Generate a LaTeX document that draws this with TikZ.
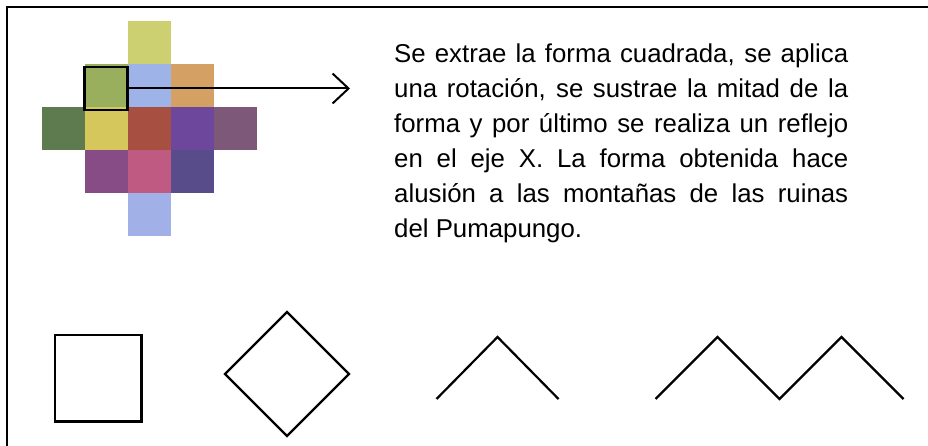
\documentclass[tikz,border=0pt]{standalone}
\usepackage{fontspec}
\setmainfont{Liberation Sans}
\usetikzlibrary{arrows.meta}
\hyphenpenalty=10000

\definecolor{cA}{RGB}{205,208,112}
\definecolor{cB}{RGB}{154,175,94}
\definecolor{cC}{RGB}{158,179,232}
\definecolor{cD}{RGB}{212,160,100}
\definecolor{cE}{RGB}{94,123,79}
\definecolor{cF}{RGB}{213,199,91}
\definecolor{cG}{RGB}{167,79,64}
\definecolor{cH}{RGB}{109,71,155}
\definecolor{cI}{RGB}{126,88,120}
\definecolor{cJ}{RGB}{135,76,133}
\definecolor{cK}{RGB}{191,90,130}
\definecolor{cL}{RGB}{88,76,138}
\definecolor{cM}{RGB}{161,176,230}

\tikzset{tile/.style={minimum size=43pt, inner sep=0pt, outer sep=0pt, draw=none}}
\tikzset{shape line/.style={line width=2.2pt}}

\begin{document}
\begin{tikzpicture}[x=1pt,y=-1pt]
		\useasboundingbox (0,0) rectangle (928,446);
		\draw[line width=2.5pt] (928,7) -- (7,7) -- (7,446);
		
		% mosaic
		\foreach \c/\r/\col in {2/0/cA, 1/1/cB, 2/1/cC, 3/1/cD,
			0/2/cE, 1/2/cF, 2/2/cG, 3/2/cH, 4/2/cI,
			1/3/cJ, 2/3/cK, 3/3/cL, 2/4/cM}
			\node[tile, fill=\col] (t\c\r) at (63+43*\c, 43+43*\r) {};
		
		\node[tile, draw=black, line width=2.7pt] (sel) at (106,88.5) {};
		\coordinate (tip) at (350,88.5);
		\draw[line width=2pt, -{Straight Barb[length=16pt,width=30pt]}] (sel.east) -- (tip);
		
		\node[anchor=base west, inner sep=0pt, text width=454pt, align=justify,
			font=\fontsize{25.8}{35}\selectfont] (txt) at (394,62.7)
			{Se extrae la forma cuadrada, se aplica\linebreak
			una rotación, se sustrae la mitad de la\linebreak
			forma y por último se realiza un reflejo\linebreak
			en el eje X. La forma obtenida hace\linebreak
			alusión a las montañas de las ruinas\linebreak
			del Pumapungo.};
		
		% shapes
		\draw[shape line] (55,335) rectangle ++(86.5,86.5);
		\draw[shape line] (225,374) -- ++(62,-62) -- ++(62,62) -- ++(-62,62) -- cycle;
		\draw[shape line] (436.5,399) -- ++(61,-62) -- ++(61,62);
		\draw[shape line] (655.5,399) -- ++(62,-62) -- ++(62,62) -- ++(62,-62) -- ++(62,62);
	\end{tikzpicture}
\end{document}
